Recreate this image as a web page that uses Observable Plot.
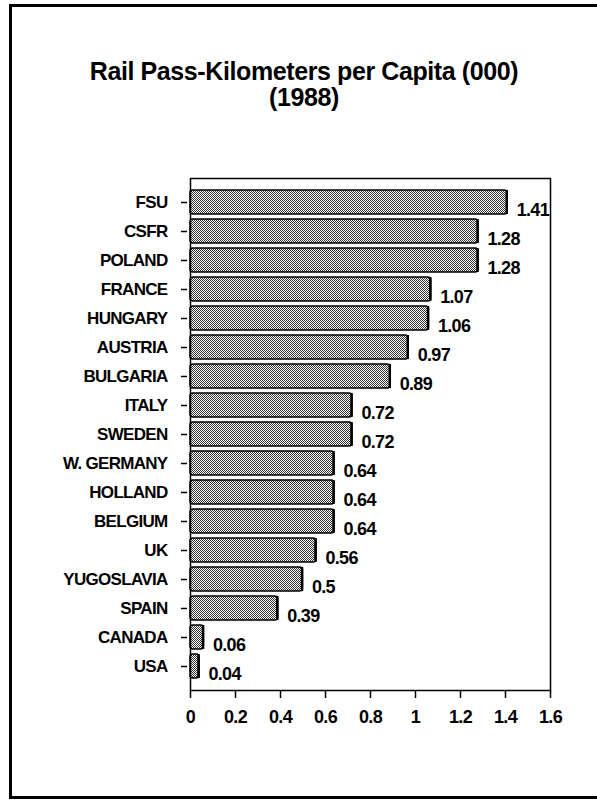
<!DOCTYPE html>
<html><head><meta charset="utf-8">
<script src="https://cdn.jsdelivr.net/npm/d3@7"></script>
<script src="https://cdn.jsdelivr.net/npm/@observablehq/plot@0.6"></script>
<style>
html,body{margin:0;padding:0;overflow:hidden}
body{background:#fff;width:597px;height:800px;position:relative;font-family:"Liberation Sans",Arial,sans-serif;}
#border{position:absolute;left:9px;top:4px;width:588px;height:795px;border:3px solid #000;border-right:none;box-sizing:border-box}
#title{position:absolute;top:58px;left:0;width:608px;text-align:center;font-weight:bold;font-size:25px;line-height:26px;letter-spacing:-0.4px}
#chart{position:absolute;top:110px;left:0;width:597px}
#chart svg{display:block}
</style></head><body>
<div id="border"></div>
<div id="title">Rail Pass-Kilometers per Capita (000)<br>(1988)</div>
<div id="chart"></div>
<script>
const countries = ["FSU","CSFR","POLAND","FRANCE","HUNGARY","AUSTRIA","BULGARIA","ITALY","SWEDEN","W. GERMANY","HOLLAND","BELGIUM","UK","YUGOSLAVIA","SPAIN","CANADA","USA"];
const values = [1.41,1.28,1.28,1.07,1.06,0.97,0.89,0.72,0.72,0.64,0.64,0.64,0.56,0.5,0.39,0.06,0.04];
const xTicks = [0,0.2,0.4,0.6,0.8,1,1.2,1.4,1.6];
const xTickLabels = ["0","0.2","0.4","0.6","0.8","1","1.2","1.4","1.6"];

const data = countries.map((c,i)=>({country:c, value:values[i]}));
const font = '"Liberation Sans",Arial,sans-serif';

const svg = Plot.plot({
  width:597, height:640, marginTop:68, marginBottom:60, marginLeft:190, marginRight:47,
  style:{fontFamily:font, fontSize:"17px", fontWeight:"bold", color:"#000", background:"transparent", letterSpacing:"-0.7px"},
  x:{domain:[0,1.6], label:null},
  y:{domain:countries, padding:0.18, label:null},
  marks:[
    Plot.barX(data,{x:"value", y:"country", fill:"url(#dither)", stroke:"#000", strokeWidth:1.5, rx:3}),
    Plot.tickX(data,{x:"value", y:"country", stroke:"#000", strokeWidth:2.5, dx:-1}),
    Plot.text(data,{x:"value", y:"country", text:d=>String(d.value), textAnchor:"start", dx:9, dy:8, fontSize:18, fontWeight:"bold"}),
    Plot.frame({stroke:"#000", strokeWidth:1.5}),
    Plot.axisX({ticks:xTicks, tickFormat:d=>xTickLabels[xTicks.indexOf(d)], tickSize:8, tickPadding:12, label:null, strokeWidth:1.5, fontSize:18}),
    Plot.axisY({tickSize:6, dx:-3, tickPadding:14, label:null, strokeWidth:1.5})
  ]
});
const ns = "http://www.w3.org/2000/svg";
const defs = document.createElementNS(ns,"defs");
defs.innerHTML = '<pattern id="dither" width="2" height="2" patternUnits="userSpaceOnUse"><rect width="2" height="2" fill="#fff"/><rect width="1" height="1" fill="#333"/><rect x="1" y="1" width="1" height="1" fill="#333"/></pattern>';
svg.prepend(defs);
document.getElementById("chart").appendChild(svg);
</script>
</body></html>
